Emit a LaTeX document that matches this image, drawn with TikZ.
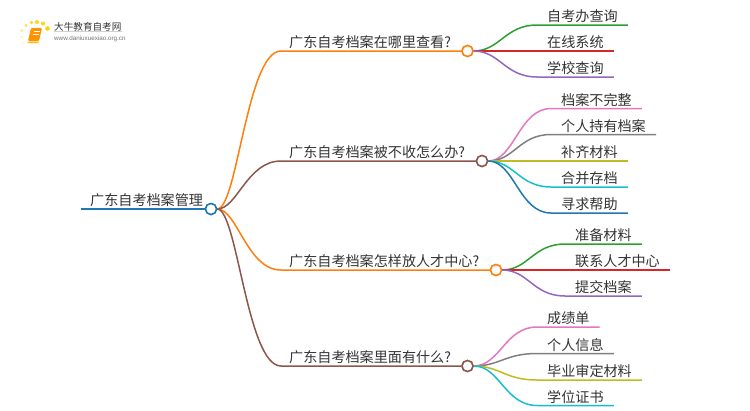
\documentclass[tikz,border=0pt]{standalone}
\usepackage{fontspec}
\setmainfont{Noto Sans CJK SC}
\newfontfamily\latinfont{Liberation Sans}
\definecolor{cblue}{HTML}{1F77B4}
\definecolor{corange}{HTML}{FF7F0E}
\definecolor{cgreen}{HTML}{2CA02C}
\definecolor{cred}{HTML}{D62728}
\definecolor{cpurple}{HTML}{9467BD}
\definecolor{cbrown}{HTML}{8C564B}
\definecolor{cpink}{HTML}{E377C2}
\definecolor{cgrey}{HTML}{7F7F7F}
\definecolor{colive}{HTML}{BCBD22}
\definecolor{ccyan}{HTML}{17BECF}
\definecolor{ink}{HTML}{333333}
\tikzset{
  lbl/.style={font=\fontsize{14.1}{14}\selectfont, text=ink, inner xsep=0pt, inner ysep=.5pt,
    text height=11.5pt, text depth=2.5pt, anchor=south west},
  leaf/.style={lbl, inner xsep=10pt},
  hub/.style={circle, draw=#1, fill=white, line width=1.5pt, minimum size=11pt, inner sep=0pt},
  wire/.style={line width=1.5pt, color=#1},
  logotext/.style={inner sep=0pt, anchor=west},
}
\newcommand{\branch}[3]{%
  \draw[wire=#3] (root.east) .. controls +(20pt,0pt) and ([xshift=-42pt]#2.south west) .. ([xshift=-8pt]#2.south west) -- (#2.south west) -- (#1.west);
}
\newcommand{\twig}[3]{%
  \draw[wire=#3] (#1.east) .. controls +(26pt,0pt) and ([xshift=-32pt]#2.south west) .. (#2.south west) -- (#2.south east);
}
\begin{document}
\begin{tikzpicture}[x=1pt,y=-1pt]
\useasboundingbox (0,0) rectangle (750,410);
% logo
\node[logotext, font=\fontsize{9.6}{10}\selectfont, text=ink] (logoa) at (54,27) {大牛教育自考网};
\node[logotext, font=\latinfont\fontsize{6.3}{7}\selectfont, text=black!55] (logob) at (54,39) {www.daniuxuexiao.org.cn};
\draw[black!18, line width=.5pt] (logoa.south west) ++(0,-.5) -- ++(68,0);
\foreach \x/\y/\r/\o in {47.5/28.5/2.3/1,43/23.5/2.1/.9,37/22/2/.9,31.5/22.5/1.9/.85,26/25.5/1.6/.7,22/30.5/1.4/.55,22/37/1.2/.4,23.5/42.5/1/.3}
  \fill[yellow!70!orange, opacity=\o] (\x,\y) circle (\r);
\fill[orange!85!yellow, rounded corners=1pt] (31,28) -- (42,28) -- (39,41) -- (28,41) -- cycle;
\fill[orange!50!yellow, rounded corners=.6pt] (28,41.5) -- (39,41.5) -- (38.6,43) -- (27.5,43) -- cycle;
\draw[white, line width=.5pt] (33.5,31.5) -- (39.5,31.5) (33,34) -- (39,34);
% root
\node[lbl] (root-t) at (90,209) {广东自考档案管理};
\node[hub=cblue] (root) at (211,209) {};
% branches
\node[lbl] (bt1) at (289,51) {广东自考档案在哪里查看?};
\node[lbl] (bt2) at (289,161) {广东自考档案被不收怎么办?};
\node[lbl] (bt3) at (289,270) {广东自考档案怎样放人才中心?};
\node[lbl] (bt4) at (289,366) {广东自考档案里面有什么?};
\node[hub=corange] (h1) at (467.5,51) {};
\node[hub=cbrown] (h2) at (482,161) {};
\node[hub=corange] (h3) at (496,270) {};
\node[hub=cbrown] (h4) at (467.5,366) {};
% leaves
\node[leaf] (a1) at (537,25) {自考办查询};
\node[leaf] (a2) at (537,51) {在线系统};
\node[leaf] (a3) at (537,77) {学校查询};
\node[leaf] (b1) at (551,108.5) {档案不完整};
\node[leaf] (b2) at (551,134.5) {个人持有档案};
\node[leaf] (b3) at (551,161) {补齐材料};
\node[leaf] (b4) at (551,187) {合并存档};
\node[leaf] (b5) at (551,213) {寻求帮助};
\node[leaf] (c1) at (565,244) {准备材料};
\node[leaf] (c2) at (565,270) {联系人才中心};
\node[leaf] (c3) at (565,296) {提交档案};
\node[leaf] (d1) at (537,327) {成绩单};
\node[leaf] (d2) at (537,353.5) {个人信息};
\node[leaf] (d3) at (537,380) {毕业审定材料};
\node[leaf] (d4) at (537,405.5) {学位证书};
% connectors
\draw[wire=cblue] ([xshift=-9pt]root-t.south west) -- (root.west);
\branch{h1}{bt1}{corange}
\branch{h2}{bt2}{cbrown}
\branch{h3}{bt3}{corange}
\branch{h4}{bt4}{cbrown}
\twig{h1}{a1}{cgreen}\twig{h1}{a2}{cred}\twig{h1}{a3}{cpurple}
\twig{h2}{b1}{cpink}\twig{h2}{b2}{cgrey}\twig{h2}{b3}{colive}\twig{h2}{b4}{ccyan}\twig{h2}{b5}{cblue}
\twig{h3}{c1}{cgreen}\twig{h3}{c2}{cred}\twig{h3}{c3}{cpurple}
\twig{h4}{d1}{cpink}\twig{h4}{d2}{cgrey}\twig{h4}{d3}{colive}\twig{h4}{d4}{ccyan}
\foreach \n/\c in {root/cblue,h1/corange,h2/cbrown,h3/corange,h4/cbrown}
  \draw[\c, fill=white, line width=1.5pt] (\n) circle (5.5pt);
\end{tikzpicture}
\end{document}
